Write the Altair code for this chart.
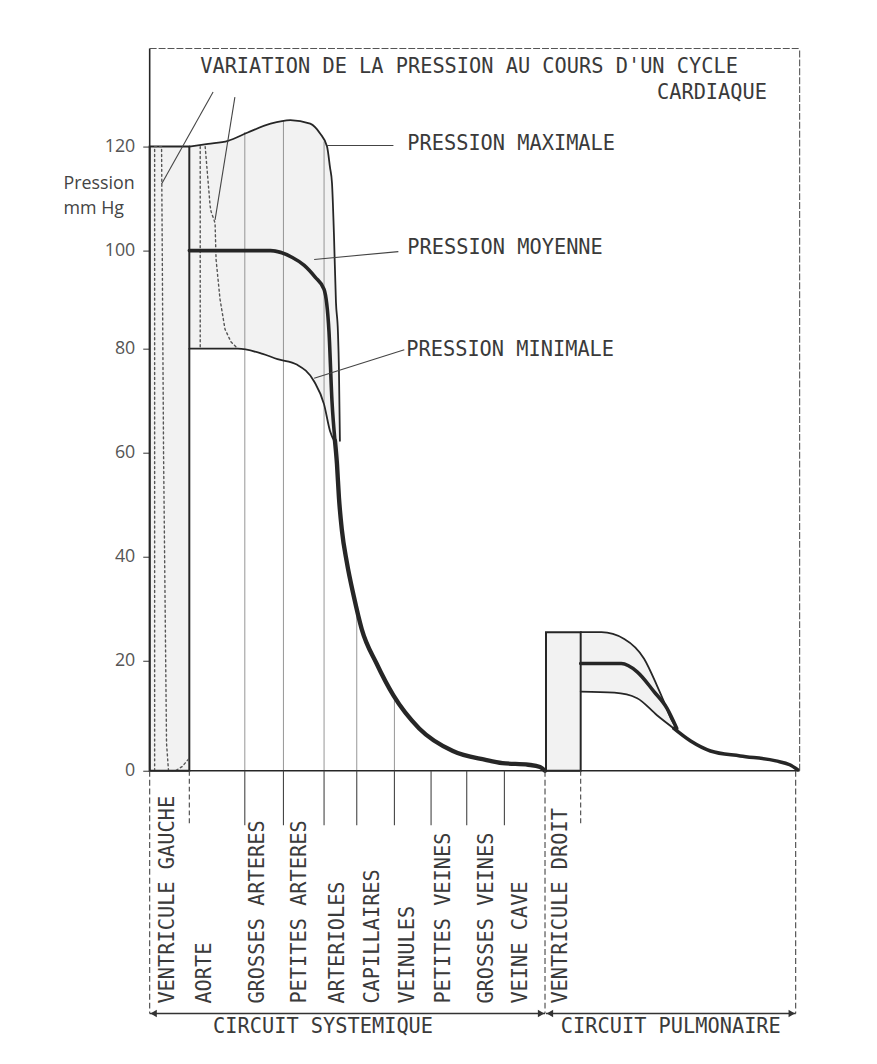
import altair as alt
import pandas as pd

# ------------------------------------------------------------------ data
# x : position along the circulation (0 = left border of the frame)
# p : pressure, mm Hg
y_ticks = [0, 20, 40, 60, 80, 100, 120]

segment_names = ["VENTRICULE GAUCHE", "AORTE", "GROSSES ARTERES", "PETITES ARTERES",
                 "ARTERIOLES", "CAPILLAIRES", "VEINULES", "PETITES VEINES",
                 "GROSSES VEINES", "VEINE CAVE", "VENTRICULE DROIT"]
segment_label_x = [19, 56, 109, 152, 190, 225, 261, 297, 341, 375, 415]
segment_ticks_x = [96, 135, 176, 209, 247, 284, 320, 358]
segment_dashed_x = [40, 435]

circuit_names = ["CIRCUIT SYSTEMIQUE", "CIRCUIT PULMONAIRE"]
circuit_start = [0, 400]
circuit_end = [399, 652]
circuit_label_x = [175, 526]

# systemic circulation
sys_max_x = [40, 59, 79, 99, 122, 142, 162, 172, 179, 182, 184, 186, 188, 190, 191, 192]
sys_max_p = [120, 120.5, 121.1, 122.7, 124.4, 125.1, 124.4, 122.5, 120, 116, 113, 103, 89.5, 83.4, 76.2, 62.3]
sys_mean_x = [40, 80, 122, 144, 156, 167, 176, 181, 184, 187]
sys_mean_p = [100, 100, 100, 98.6, 97, 94.6, 92.1, 83.4, 69.9, 62.3]
sys_min_x = [40, 89, 114, 129, 149, 166, 176, 182, 186]
sys_min_p = [80, 80, 79, 78, 76.9, 73.7, 69.3, 64.2, 62.3]
sys_merged_x = [187, 189, 191, 194, 199, 206, 214, 229, 246, 272, 306, 339, 356, 382, 394, 399]
sys_merged_p = [62.3, 57.9, 51.4, 45.1, 38.9, 32.4, 26.1, 19.5, 13.7, 7.7, 3.6, 2.0, 1.4, 1.1, 0.7, 0]

# pulmonary circulation
pul_max_x = [435, 456, 479, 499, 512, 519, 526, 532]
pul_max_p = [25.5, 25.5, 24.2, 20.4, 15.5, 12.6, 9.5, 7.7]
pul_mean_x = [435, 476, 492, 509, 522, 532]
pul_mean_p = [19.5, 19.5, 18.0, 14.4, 11.4, 7.7]
pul_min_x = [435, 469, 492, 512, 529]
pul_min_p = [14.4, 14.2, 13.2, 10.1, 7.7]
pul_merged_x = [529, 546, 566, 596, 632, 646, 654]
pul_merged_p = [7.7, 5.4, 3.6, 2.7, 1.8, 1.1, 0.2]

# ventricles
lv_x = [0, 40]
lv_peak = 120
rv_x = [400, 435]
rv_peak = 25.5

# dotted ventricular / aortic pressure traces
lv_dotted_x = [5, 5, 12, 14, 17, 19, 26, 33, 40]
lv_dotted_p = [0, 120, 120, 60, 5, 0, 0, 0.8, 2.3]
aorta_drop_x = [51, 51]
aorta_drop_p = [120, 80]
aorta_dotted_x = [56, 61, 62, 66, 67, 71, 76, 82, 89]
aorta_dotted_p = [120, 108.6, 107.5, 105.3, 98.2, 90.1, 84.0, 81.4, 80]

# thin segment dividers drawn up to the pressure curve
divider_x = [96, 135, 176, 209, 247]
divider_top = [122.8, 125.0, 121.0, 30.0, 13.7]

# pointer lines (top left)
pointer_x1 = [64, 86]
pointer_p1 = [130.5, 129.5]
pointer_x2 = [12, 66]
pointer_p2 = [112.8, 105.9]

# curve labels with leader lines
curve_labels = ["PRESSION MAXIMALE", "PRESSION MOYENNE", "PRESSION MINIMALE"]
curve_label_x = [260, 260, 259]
curve_label_p = [120.4, 100.4, 79.7]
leader_x1 = [179, 166, 166]
leader_p1 = [120.2, 98.2, 74.3]
leader_x2 = [246, 251, 257]
leader_p2 = [120.2, 99.8, 79.8]

title_lines = ["VARIATION DE LA PRESSION AU COURS D'UN CYCLE", "CARDIAQUE"]
title_x = [51, 512]
title_p = [135.3, 130.2]

axis_title_lines = ["Pression", "mm Hg"]
axis_title_x = [-87, -87]
axis_title_p = [111.8, 107.0]

# ------------------------------------------------------------------ styles
INK = "#262626"
TXT = "#3a3a3a"
STIPPLE = "#f2f2f2"
MONO = "DejaVu Sans Mono"
W, H = 656, 729
TOP = 138.857

xscale = alt.Scale(domain=[0, W], nice=False, zero=False)
yscale = alt.Scale(domain=[0, 20, 40, 60, 80, 100, 120, TOP],
                   range=[729, 618, 513, 408, 303, 204, 99, 0],
                   nice=False, zero=False)
yaxis = alt.Axis(values=y_ticks, title=None, grid=False, domain=False, ticks=True,
                 tickSize=7, tickColor="#555", tickWidth=1.2,
                 labelFont="Open Sans", labelFontSize=18, labelColor="#555",
                 labelPadding=8)


def X(f="x"):
    return alt.X(f"{f}:Q", scale=xscale, axis=None)


def Y(f="p"):
    return alt.Y(f"{f}:Q", scale=yscale, axis=yaxis)


def df_line(xs, ps):
    return pd.DataFrame({"x": xs, "p": ps, "i": list(range(len(xs)))})


def curve(xs, ps, width, dash=None, interp="monotone", color=INK):
    kw = dict(strokeWidth=width, color=color, interpolate=interp,
              strokeCap="round", strokeJoin="round")
    if dash:
        kw["strokeDash"] = dash
    return alt.Chart(df_line(xs, ps)).mark_line(**kw).encode(x=X(), y=Y(), order="i:Q")


def area(xs, ps, color):
    return alt.Chart(df_line(xs, ps)).mark_area(color=color, interpolate="monotone").encode(
        x=X(), y=Y(), y2=alt.datum(0))


layers = []

# stippled bands (grey under max, white under min)
layers.append(area(sys_max_x, sys_max_p, STIPPLE))
layers.append(area(pul_max_x, pul_max_p, STIPPLE))
layers.append(area(sys_min_x + sys_merged_x[1:], sys_min_p + sys_merged_p[1:], "white"))
layers.append(area(pul_min_x + pul_merged_x[1:], pul_min_p + pul_merged_p[1:], "white"))

# ventricles
vent = pd.DataFrame({"x": [lv_x[0], rv_x[0]], "x2": [lv_x[1], rv_x[1]],
                     "p": [0, 0], "p2": [lv_peak, rv_peak]})
layers.append(alt.Chart(vent).mark_rect(fill=STIPPLE, stroke=INK, strokeWidth=2).encode(
    x=X(), x2=alt.X2("x2:Q"), y=Y(), y2=alt.Y2("p2:Q")))

# dividers up to the curve
div = pd.DataFrame({"x": divider_x, "p": [0] * len(divider_x), "p2": divider_top})
layers.append(alt.Chart(div).mark_rule(color="#8a8a8a", strokeWidth=0.9).encode(
    x=X(), y=Y(), y2=alt.Y2("p2:Q")))

# dotted traces
layers.append(curve(lv_dotted_x, lv_dotted_p, 1.4, dash=[2, 3], interp="linear", color="#555"))
layers.append(curve(aorta_drop_x, aorta_drop_p, 1.4, dash=[2, 3], interp="linear", color="#555"))
layers.append(curve(aorta_dotted_x, aorta_dotted_p, 1.4, dash=[2, 3], interp="linear", color="#555"))

# frame
frame_solid = pd.DataFrame({"x": [0, 0], "x2": [0, W], "p": [0, 0], "p2": [TOP, 0]})
layers.append(alt.Chart(frame_solid).mark_rule(color=INK, strokeWidth=1.6).encode(
    x=X(), x2=alt.X2("x2:Q"), y=Y(), y2=alt.Y2("p2:Q")))
frame_light = pd.DataFrame({"x": [0, W], "x2": [W, W], "p": [TOP, 0], "p2": [TOP, TOP]})
layers.append(alt.Chart(frame_light).mark_rule(color="#555", strokeWidth=1.1,
                                               strokeDash=[7, 2]).encode(
    x=X(), x2=alt.X2("x2:Q"), y=Y(), y2=alt.Y2("p2:Q")))

# pressure curves
layers.append(curve(sys_max_x, sys_max_p, 1.8))
layers.append(curve(sys_min_x, sys_min_p, 1.8))
layers.append(curve(sys_mean_x, sys_mean_p, 3.6))
layers.append(curve(sys_merged_x, sys_merged_p, 4.4))
layers.append(curve(pul_max_x, pul_max_p, 1.8))
layers.append(curve(pul_min_x, pul_min_p, 1.8))
layers.append(curve(pul_mean_x, pul_mean_p, 3.6))
layers.append(curve(pul_merged_x, pul_merged_p, 3.6))

# leader and pointer lines
lead = pd.DataFrame({"x": leader_x1 + pointer_x1, "x2": leader_x2 + pointer_x2,
                     "p": leader_p1 + pointer_p1, "p2": leader_p2 + pointer_p2})
layers.append(alt.Chart(lead).mark_rule(color="#444", strokeWidth=1.1).encode(
    x=X(), x2=alt.X2("x2:Q"), y=Y(), y2=alt.Y2("p2:Q")))

# curve labels
lab = pd.DataFrame({"x": curve_label_x, "p": curve_label_p, "t": curve_labels})
layers.append(alt.Chart(lab).mark_text(font=MONO, fontSize=20.5, color=TXT, align="left",
                                       baseline="middle").encode(x=X(), y=Y(), text="t:N"))

# title
tit = pd.DataFrame({"x": title_x, "p": title_p, "t": title_lines})
layers.append(alt.Chart(tit).mark_text(font=MONO, fontSize=20.5, color=TXT, align="left",
                                       baseline="middle").encode(x=X(), y=Y(), text="t:N"))

# axis title
at = pd.DataFrame({"x": axis_title_x, "p": axis_title_p, "t": axis_title_lines})
layers.append(alt.Chart(at).mark_text(font="Open Sans", fontSize=18, color="#444", align="left",
                                      baseline="alphabetic").encode(x=X(), y=Y(), text="t:N"))

# below the axis: short ticks, dashed extensions, brackets, labels
ticks_df = pd.DataFrame({"x": segment_ticks_x})
layers.append(alt.Chart(ticks_df).mark_rule(color="#444", strokeWidth=1.1).encode(
    x=X(), y=alt.value(729), y2=alt.value(784)))
dticks_df = pd.DataFrame({"x": segment_dashed_x})
layers.append(alt.Chart(dticks_df).mark_rule(color="#444", strokeWidth=1.1,
                                             strokeDash=[5, 3]).encode(
    x=X(), y=alt.value(729), y2=alt.value(784)))
ext_df = pd.DataFrame({"x": [circuit_start[0], circuit_end[0], circuit_end[1]]})
layers.append(alt.Chart(ext_df).mark_rule(color="#444", strokeWidth=1.1,
                                          strokeDash=[6, 3]).encode(
    x=X(), y=alt.value(729), y2=alt.value(974)))

circ = pd.DataFrame({"x": circuit_start, "x2": circuit_end, "lx": circuit_label_x,
                     "t": circuit_names})
layers.append(alt.Chart(circ).mark_rule(color="#333", strokeWidth=1.4).encode(
    x=X(), x2=alt.X2("x2:Q"), y=alt.value(974)))
layers.append(alt.Chart(circ).mark_point(shape="triangle-left", filled=True, size=55,
                                         color="#333", opacity=1).encode(
    x=alt.X("x:Q", scale=xscale, axis=None), y=alt.value(974), xOffset=alt.value(4)))
layers.append(alt.Chart(circ).mark_point(shape="triangle-right", filled=True, size=55,
                                         color="#333", opacity=1).encode(
    x=alt.X("x2:Q", scale=xscale, axis=None), y=alt.value(974), xOffset=alt.value(-4)))
layers.append(alt.Chart(circ).mark_text(font=MONO, fontSize=20.5, color=TXT, align="center",
                                        baseline="middle").encode(
    x=X("lx"), y=alt.value(988), text="t:N"))

seg = pd.DataFrame({"x": segment_label_x, "t": segment_names})
layers.append(alt.Chart(seg).mark_text(font=MONO, fontSize=20.5, color=TXT, align="left",
                                       baseline="middle", angle=270).encode(
    x=X(), y=alt.value(964), text="t:N"))

chart = alt.layer(*layers).properties(
    width=W, height=H,
    autosize=alt.AutoSizeParams(type="none"),
    padding={"left": 143, "top": 36, "right": 70, "bottom": 283},
    background="white",
).configure_view(stroke=None)

chart.save("out.html", embed_options={"renderer": "svg", "actions": False})
